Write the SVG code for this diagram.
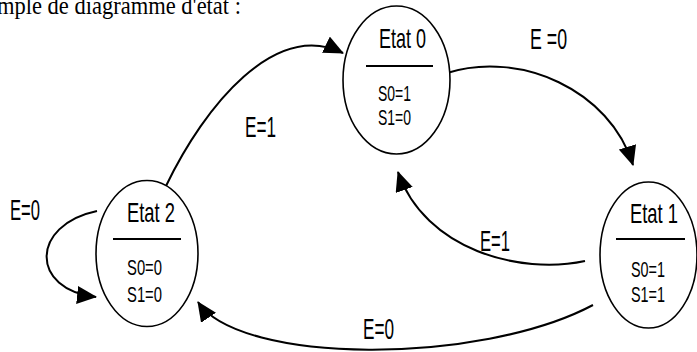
<svg xmlns="http://www.w3.org/2000/svg" width="697" height="352" viewBox="0 0 697 352">
  <style>
    .state { fill: #ffffff; stroke: #000000; stroke-width: 1.6; }
    .sep { stroke: #000000; stroke-width: 2; }
    .name { font-family: "Liberation Sans", Arial, sans-serif; font-size: 28px; fill: #000000; }
    .out { font-family: "Liberation Sans", Arial, sans-serif; font-size: 22px; fill: #000000; }
    .lbl { font-family: "Liberation Sans", Arial, sans-serif; font-size: 29px; fill: #000000; }
    .title { font-family: "Liberation Serif", "Times New Roman", serif; font-size: 26px; fill: #000000; }
    .edge { fill: none; stroke: #000000; stroke-width: 2; marker-end: url(#arrow); }
  </style>
  <defs>
    <marker id="arrow" markerUnits="userSpaceOnUse" markerWidth="20" markerHeight="18" refX="19" refY="9" orient="auto">
      <path d="M0,0 L20,9 L0,18 z" fill="#000000"/>
    </marker>
  </defs>

  <rect width="697" height="352" fill="#ffffff"/>

  <text class="title" x="-3" y="14" textLength="244" lengthAdjust="spacingAndGlyphs">mple de diagramme d'état :</text>

  <g id="connectors">
    <path class="edge" d="M166,186 C205,105 275,20 343,53"/>
    <path class="edge" d="M447,73 C520,50 610,90 633,165"/>
    <path class="edge" d="M585,261 C520,275 425,250 398,172"/>
    <path class="edge" d="M593,305 C480,365 240,365 198,302"/>
    <path class="edge" d="M97,211 C30,225 30,290 96,297"/>
    <text class="lbl" x="245" y="137" textLength="31" lengthAdjust="spacingAndGlyphs">E=1</text>
    <text class="lbl" x="530" y="49" textLength="37" lengthAdjust="spacingAndGlyphs">E =0</text>
    <text class="lbl" x="10" y="220" textLength="30" lengthAdjust="spacingAndGlyphs">E=0</text>
    <text class="lbl" x="480" y="251" textLength="30" lengthAdjust="spacingAndGlyphs">E=1</text>
    <text class="lbl" x="363" y="339" textLength="31" lengthAdjust="spacingAndGlyphs">E=0</text>
  </g>

  <g id="etat0">
    <ellipse class="state" cx="396.5" cy="80" rx="53.5" ry="74"/>
    <text class="name" x="379" y="48" textLength="47" lengthAdjust="spacingAndGlyphs">Etat 0</text>
    <line class="sep" x1="366" y1="66" x2="433" y2="66"/>
    <text class="out" x="378" y="101" textLength="33" lengthAdjust="spacingAndGlyphs">S0=1</text>
    <text class="out" x="378" y="125" textLength="33" lengthAdjust="spacingAndGlyphs">S1=0</text>
  </g>

  <g id="etat1">
    <ellipse class="state" cx="648.5" cy="255" rx="48.5" ry="73"/>
    <text class="name" x="630" y="223" textLength="48" lengthAdjust="spacingAndGlyphs">Etat 1</text>
    <line class="sep" x1="616" y1="239" x2="685" y2="239"/>
    <text class="out" x="631" y="277" textLength="34" lengthAdjust="spacingAndGlyphs">S0=1</text>
    <text class="out" x="631" y="302" textLength="34" lengthAdjust="spacingAndGlyphs">S1=1</text>
  </g>

  <g id="etat2">
    <ellipse class="state" cx="147" cy="253.5" rx="51" ry="73"/>
    <text class="name" x="127" y="222" textLength="48" lengthAdjust="spacingAndGlyphs">Etat 2</text>
    <line class="sep" x1="113" y1="239" x2="181" y2="239"/>
    <text class="out" x="127" y="275" textLength="35" lengthAdjust="spacingAndGlyphs">S0=0</text>
    <text class="out" x="127" y="302" textLength="35" lengthAdjust="spacingAndGlyphs">S1=0</text>
  </g>
</svg>
